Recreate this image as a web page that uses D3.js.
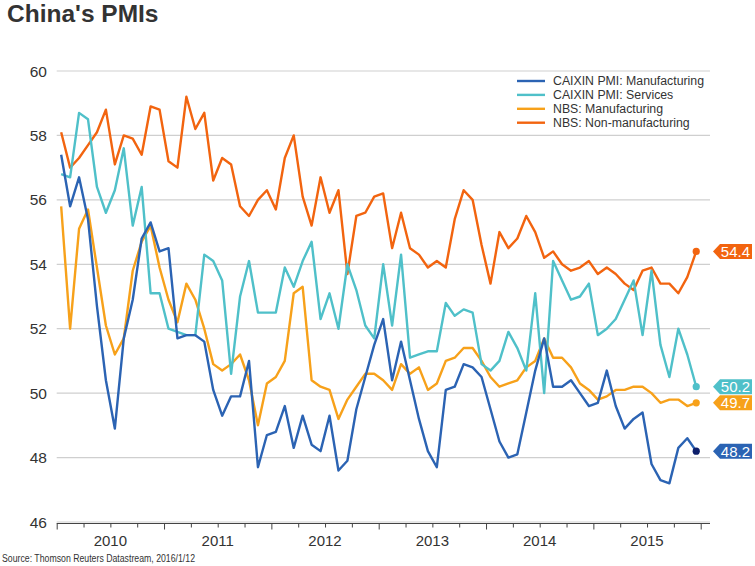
<!DOCTYPE html>
<html><head><meta charset="utf-8">
<script src="https://cdn.jsdelivr.net/npm/d3@7"></script>
<style>
html,body{margin:0;padding:0;background:#fff;}
svg{display:block;font-family:"Liberation Sans",Arial,sans-serif;}
</style></head>
<body>
<svg id="chart" width="755" height="566"></svg>
<script>
// ---- data (monthly, Jan 2010 .. Dec 2015) ----
const years = ["2010","2011","2012","2013","2014","2015"];
const yTicks = [46,48,50,52,54,56,58,60];
const seriesNames = ["CAIXIN PMI: Manufacturing","CAIXIN PMI: Services","NBS: Manufacturing","NBS: Non-manufacturing"];

const caixinManufacturing = [
 57.4,55.8,56.7,55.4,52.7,50.4,48.9,51.7,52.9,54.8,55.3,54.4,
 54.5,51.7,51.8,51.8,51.6,50.1,49.3,49.9,49.9,51.0,47.7,48.7,
 48.8,49.6,48.3,49.3,48.4,48.2,49.3,47.6,47.9,49.5,50.5,51.5,
 52.3,50.4,51.6,50.4,49.2,48.2,47.7,50.1,50.2,50.9,50.8,50.5,
 49.5,48.5,48.0,48.1,49.4,50.7,51.7,50.2,50.2,50.4,50.0,49.6,
 49.7,50.7,49.6,48.9,49.2,49.4,47.8,47.3,47.2,48.3,48.6,48.2];
const caixinServices = [
 56.8,56.7,58.7,58.5,56.4,55.6,56.3,57.6,55.2,56.4,53.1,53.1,
 52.0,51.9,51.8,51.8,54.3,54.1,53.5,50.6,53.0,54.1,52.5,52.5,
 52.5,53.9,53.3,54.1,54.7,52.3,53.1,52.0,54.0,53.2,52.1,51.7,
 54.0,52.1,54.3,51.1,51.2,51.3,51.3,52.8,52.4,52.6,52.5,50.9,
 50.7,51.0,51.9,51.4,50.7,53.1,50.0,54.1,53.5,52.9,53.0,53.4,
 51.8,52.0,52.3,52.9,53.5,51.8,53.8,51.5,50.5,52.0,51.2,50.2];
const nbsManufacturing = [
 55.8,52.0,55.1,55.7,53.9,52.1,51.2,51.7,53.8,54.7,55.2,53.9,
 52.9,52.2,53.4,52.9,52.0,50.9,50.7,50.9,51.2,50.4,49.0,50.3,
 50.5,51.0,53.1,53.3,50.4,50.2,50.1,49.2,49.8,50.2,50.6,50.6,
 50.4,50.1,50.9,50.6,50.8,50.1,50.3,51.0,51.1,51.4,51.4,51.0,
 50.5,50.2,50.3,50.4,50.8,51.0,51.7,51.1,51.1,50.8,50.3,50.1,
 49.8,49.9,50.1,50.1,50.2,50.2,50.0,49.7,49.8,49.8,49.6,49.7];
const nbsNonManufacturing = [
 58.1,57.0,57.3,57.7,58.1,58.8,57.1,58.0,57.9,57.4,58.9,58.8,
 57.2,57.0,59.2,58.2,58.7,56.6,57.3,57.1,55.8,55.5,56.0,56.3,
 55.7,57.3,58.0,56.1,55.2,56.7,55.6,56.3,53.7,55.5,55.6,56.1,
 56.2,54.5,55.6,54.5,54.3,53.9,54.1,53.9,55.4,56.3,56.0,54.6,
 53.4,55.0,54.5,54.8,55.5,55.0,54.2,54.4,54.0,53.8,53.9,54.1,
 53.7,53.9,53.7,53.4,53.2,53.8,53.9,53.4,53.4,53.1,53.6,54.4];

const colors = ["#2b63b3","#4fc0c9","#f7a11a","#f2640f"];
const dotColors = ["#0d1f6b","#4fc0c9","#f7a11a","#f2640f"];
const seriesData = [caixinManufacturing, caixinServices, nbsManufacturing, nbsNonManufacturing];

// ---- layout ----
const svg = d3.select("#chart");
const plotLeft = 56.7, plotRight = 700.7, gridRight = 710, plotTop = 71, plotBottom = 522;
const nMonths = 72;
const x = d3.scaleLinear().domain([0, nMonths]).range([plotLeft, plotRight]);
const y = d3.scaleLinear().domain([46, 60]).range([plotBottom, plotTop]);

// title
svg.append("text").attr("x", 7).attr("y", 22)
  .attr("font-size", 24.5).attr("font-weight", "bold").attr("fill", "#333")
  .text("China's PMIs");

// gridlines
svg.append("g").selectAll("line").data(yTicks).join("line")
  .attr("x1", plotLeft).attr("x2", gridRight)
  .attr("y1", d => y(d)).attr("y2", d => y(d))
  .attr("stroke", "#cfcfcf").attr("stroke-width", 1.2);

// y labels
svg.append("g").selectAll("text").data(yTicks).join("text")
  .attr("x", 47).attr("y", d => y(d)).attr("dy", "0.36em")
  .attr("text-anchor", "end").attr("font-size", 15.5).attr("fill", "#333")
  .text(d => d);

// x axis
const axisY = plotBottom + 1.5;
const xAxis = d3.axisBottom(x)
  .tickValues(d3.range(0, nMonths + 1, 3))
  .tickSize(4).tickFormat("");
const gx = svg.append("g").attr("transform", `translate(0,${axisY})`).call(xAxis);
gx.select(".domain").attr("stroke", "#444").attr("d", `M${plotLeft},0H${gridRight}`);
gx.selectAll(".tick line").attr("stroke", "#444")
  .attr("y2", d => d % 12 === 0 ? 6 : 4);

svg.append("g").selectAll("text").data(years).join("text")
  .attr("x", (d, i) => x(i * 12 + 6)).attr("y", 546)
  .attr("text-anchor", "middle").attr("font-size", 15).attr("fill", "#333")
  .text(d => d);

// lines
const line = d3.line().x((d, i) => x(i + 0.5)).y(d => y(d));
const drawOrder = [3, 2, 1, 0];
drawOrder.forEach(k => {
  svg.append("path").datum(seriesData[k])
    .attr("d", line).attr("fill", "none")
    .attr("stroke", colors[k]).attr("stroke-width", 2.4)
    .attr("stroke-linejoin", "round");
});

// end dots and tags
drawOrder.forEach(k => {
  const arr = seriesData[k];
  const v = arr[arr.length - 1];
  const cx = x(arr.length - 0.5), cy = y(v);
  svg.append("circle").attr("cx", cx).attr("cy", cy).attr("r", 3.6)
    .attr("fill", dotColors[k]);
  const tx = 713, h = 7.5;
  svg.append("path")
    .attr("d", `M${tx},${cy}L${tx + 7},${cy - h}L752,${cy - h}L752,${cy + h}L${tx + 7},${cy + h}Z`)
    .attr("fill", colors[k]);
  svg.append("text").attr("x", 750).attr("y", cy).attr("dy", "0.36em")
    .attr("text-anchor", "end").attr("font-size", 15).attr("fill", "#fff")
    .text(v.toFixed(1));
});

// legend
const lg = svg.append("g");
seriesNames.forEach((name, k) => {
  const ly = 81 + k * 13.9;
  lg.append("line").attr("x1", 517).attr("x2", 545).attr("y1", ly).attr("y2", ly)
    .attr("stroke", colors[k]).attr("stroke-width", 2.4);
  lg.append("text").attr("x", 553).attr("y", ly).attr("dy", "0.36em")
    .attr("font-size", 12.3).attr("fill", "#333").text(name);
});

// source
svg.append("text").attr("x", 2).attr("y", 562)
  .attr("font-size", 10).attr("fill", "#333")
  .attr("textLength", 193).attr("lengthAdjust", "spacingAndGlyphs")
  .text("Source: Thomson Reuters Datastream, 2016/1/12");
</script>
</body></html>
